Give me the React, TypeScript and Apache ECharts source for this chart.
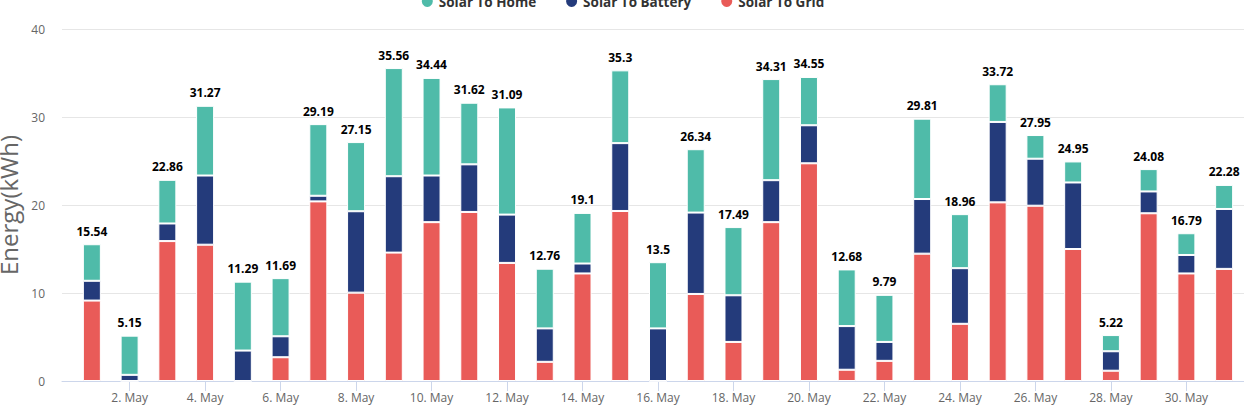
import React, { useEffect, useRef } from "react";
import * as echarts from "echarts";

const days = ["1. May", "2. May", "3. May", "4. May", "5. May", "6. May", "7. May", "8. May", "9. May", "10. May", "11. May", "12. May", "13. May", "14. May", "15. May", "16. May", "17. May", "18. May", "19. May", "20. May", "21. May", "22. May", "23. May", "24. May", "25. May", "26. May", "27. May", "28. May", "29. May", "30. May", "31. May"];
const totals = [15.54, 5.15, 22.86, 31.27, 11.29, 11.69, 29.19, 27.15, 35.56, 34.44, 31.62, 31.09, 12.76, 19.1, 35.3, 13.5, 26.34, 17.49, 34.31, 34.55, 12.68, 9.79, 29.81, 18.96, 33.72, 27.95, 24.95, 5.22, 24.08, 16.79, 22.28];
const solarToGrid = [9.14, 0, 15.9, 15.49, 0, 2.7, 20.41, 10.04, 14.59, 18.05, 19.21, 13.42, 2.18, 12.22, 19.32, 0, 9.89, 4.44, 18.05, 24.74, 1.28, 2.29, 14.47, 6.5, 20.3, 19.92, 15.0, 1.17, 19.06, 12.22, 12.74];
const solarToBattery = [2.25, 0.7, 2.0, 7.86, 3.46, 2.38, 0.64, 9.25, 8.68, 5.3, 5.41, 5.49, 3.8, 1.13, 7.71, 5.98, 9.25, 5.3, 4.77, 4.32, 4.96, 2.15, 6.21, 6.32, 9.14, 5.34, 7.56, 2.21, 2.48, 2.1, 6.81];
const solarToHome = [4.15, 4.45, 4.96, 7.92, 7.83, 6.61, 8.14, 7.86, 12.29, 11.09, 7.0, 12.18, 6.78, 5.75, 8.27, 7.52, 7.2, 7.75, 11.49, 5.49, 6.44, 5.35, 9.13, 6.14, 4.28, 2.69, 2.39, 1.84, 2.54, 2.47, 2.73];

const FONT = "'Open Sans', 'Noto Sans', sans-serif";
const everyOther = (index: number) => index % 2 === 1;

export default function App() {
  const ref = useRef<HTMLDivElement>(null);
  useEffect(() => {
    if (!ref.current) return;
    const chart = echarts.init(ref.current, undefined, { renderer: "svg" });
    const itemBorder = { borderColor: "#ffffff", borderWidth: 1 };
    chart.setOption({
      animation: false,
      textStyle: { fontFamily: FONT },
      legend: {
        top: -11,
        left: "center",
        itemGap: 28,
        icon: "circle",
        itemWidth: 13,
        itemHeight: 13,
        data: ["Solar To Home", "Solar To Battery", "Solar To Grid"],
        textStyle: { fontFamily: FONT, fontSize: 13.5, fontWeight: "bold", color: "#333333" },
      },
      grid: [
        { left: 62, right: 0, top: 29, bottom: 29, containLabel: false, outerBoundsMode: "none" },
        { left: 73, right: 1, top: 29, bottom: 29, containLabel: false, outerBoundsMode: "none" },
      ],
      xAxis: [
        {
          gridIndex: 0,
          type: "value",
          min: 0,
          max: 1,
          splitLine: { show: false },
          axisTick: { show: false },
          axisLabel: { show: false },
          axisLine: { show: true, onZero: false, lineStyle: { color: "#ccd6eb", width: 1 } },
        },
        {
          gridIndex: 1,
          type: "category",
          data: days,
          axisLine: { show: false },
          axisTick: {
            show: true,
            alignWithLabel: true,
            interval: everyOther,
            length: 10,
            lineStyle: { color: "#ccd6eb" },
          },
          axisLabel: {
            interval: everyOther,
            color: "#666666",
            fontSize: 12,
            fontFamily: FONT,
            margin: 10,
          },
        },
      ],
      yAxis: [
        {
          gridIndex: 0,
          type: "value",
          min: 0,
          max: 40,
          interval: 10,
          name: "Energy(kWh)",
          nameLocation: "middle",
          nameGap: 38,
          nameTextStyle: { fontSize: 24, color: "#666666", fontFamily: FONT },
          axisLine: { show: false },
          axisTick: { show: false },
          axisLabel: { color: "#666666", fontSize: 12, margin: 17, fontFamily: FONT },
          splitLine: { lineStyle: { color: "#e6e6e6", width: 1 } },
        },
        {
          gridIndex: 1,
          type: "value",
          min: 0,
          max: 40,
          interval: 10,
          show: false,
          splitLine: { show: false },
        },
      ],
      series: [
        {
          name: "Solar To Grid",
          type: "bar",
          stack: "energy",
          xAxisIndex: 1,
          yAxisIndex: 1,
          barWidth: 18,
          itemStyle: { color: "#e95b58", ...itemBorder },
          data: solarToGrid,
        },
        {
          name: "Solar To Battery",
          type: "bar",
          stack: "energy",
          xAxisIndex: 1,
          yAxisIndex: 1,
          barWidth: 18,
          itemStyle: { color: "#243b7b", ...itemBorder },
          data: solarToBattery,
        },
        {
          name: "Solar To Home",
          type: "bar",
          stack: "energy",
          xAxisIndex: 1,
          yAxisIndex: 1,
          barWidth: 18,
          itemStyle: { color: "#4fbba9", ...itemBorder },
          label: {
            show: true,
            position: "top",
            distance: 7,
            color: "#000000",
            fontWeight: "bold",
            fontSize: 12,
            fontFamily: FONT,
            formatter: (p: any) => String(totals[p.dataIndex]),
          },
          data: solarToHome,
        },
      ],
    });
    return () => chart.dispose();
  }, []);
  return (
    <div
      ref={ref}
      style={{ position: "fixed", left: 0, top: 0, width: 1244, height: 410, background: "#ffffff" }}
    />
  );
}
